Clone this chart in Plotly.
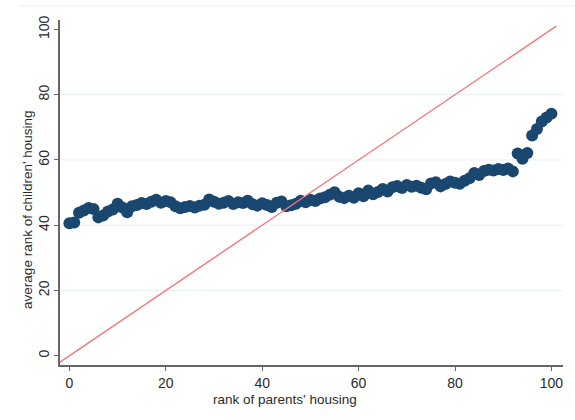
import plotly.graph_objects as go

# Percentile rank of parents' housing (0-100)
parent_rank = list(range(0, 101))

# Average rank of children's housing within each parent percentile
child_rank = [
    40.6, 40.8, 43.8, 44.5, 45.3, 45.0, 42.4, 43.0, 44.2, 44.8,
    46.6, 45.4, 44.0, 45.8, 46.2, 46.8, 46.5, 47.2, 47.8, 46.9,
    47.4, 47.0, 45.8, 45.2, 45.6, 45.9, 45.4, 46.0, 46.3, 47.9,
    47.2, 46.6, 46.9, 47.4, 46.5, 47.0, 46.8, 47.5, 46.4, 46.0,
    46.7, 46.2, 45.6, 46.9, 47.3, 45.8, 46.1, 46.6, 47.5, 47.0,
    47.8, 47.4, 48.2, 48.6, 49.3, 50.1, 48.7, 48.3, 49.0, 48.4,
    49.8, 48.9, 50.6, 49.5, 50.2, 51.1, 50.3, 51.6, 52.0, 51.4,
    52.3, 51.8, 52.1, 51.5, 51.0, 52.8, 53.2, 51.9, 52.6, 53.4,
    53.0, 52.7, 53.6, 54.4, 56.0, 55.4, 56.6, 57.0, 56.8, 57.2,
    56.9, 57.4, 56.5, 62.0, 60.4, 62.1, 67.5, 69.5, 71.8, 73.0,
    74.2,
]

# 45-degree reference line (perfect persistence)
diag_x = [-3, 101]
diag_y = [-3, 101]

x_ticks = [0, 20, 40, 60, 80, 100]
y_ticks = [0, 20, 40, 60, 80, 100]
grid_levels = [20, 40, 60, 80]

x_range = [-1.95, 102.4]
y_range = [-2.85, 102.9]

x_title = "rank of parents' housing"
y_title = "average rank of children' housing"

navy = "#1a476f"
line_red = "#f47676"
axis_gray = "#666666"
text_color = "#2b2b2b"

fig = go.Figure()

fig.add_trace(go.Scatter(
    x=parent_rank, y=child_rank, mode="markers",
    marker=dict(color=navy, size=12, line=dict(width=0)),
    showlegend=False, hoverinfo="x+y",
))

fig.add_trace(go.Scatter(
    x=diag_x, y=diag_y, mode="lines",
    line=dict(color=line_red, width=1.4),
    showlegend=False, hoverinfo="skip",
))

shapes = []
for g in grid_levels:
    shapes.append(dict(
        type="line", xref="paper", yref="y", x0=0, x1=1, y0=g, y1=g,
        line=dict(color="#e8f0f2", width=1), layer="below",
    ))
# faint outer frame line along the top
shapes.append(dict(
    type="line", xref="paper", yref="paper", x0=-0.08, x1=1.03,
    y0=1.0406, y1=1.0406, line=dict(color="#eeeeee", width=1),
))

font_family = "Liberation Sans, Arial, sans-serif"

annotations = [
    dict(text=x_title, xref="paper", yref="paper", x=0.447, y=-0.1,
         xanchor="center", yanchor="middle", showarrow=False,
         font=dict(size=13.5, color=text_color)),
    dict(text=y_title, xref="paper", yref="paper", x=-0.066, y=0.449,
         xanchor="center", yanchor="middle", showarrow=False, textangle=-90,
         font=dict(size=13.5, color=text_color)),
]

fig.update_layout(
    width=575, height=420,
    margin=dict(l=60, r=12, t=20, b=55),
    paper_bgcolor="white", plot_bgcolor="white",
    font=dict(family=font_family, color=text_color, size=14),
    shapes=shapes,
    annotations=annotations,
    xaxis=dict(
        range=x_range, tickvals=x_ticks, ticktext=[str(v) for v in x_ticks],
        showgrid=False, zeroline=False,
        showline=True, linecolor=axis_gray, linewidth=1.5,
        ticks="outside", ticklen=4, tickcolor=axis_gray, tickwidth=1,
        tickfont=dict(size=14, color=text_color),
    ),
    yaxis=dict(
        range=y_range, tickvals=y_ticks, ticktext=[str(v) for v in y_ticks],
        showgrid=False, zeroline=False,
        showline=True, linecolor=axis_gray, linewidth=1.5,
        ticks="outside", ticklen=4, tickcolor=axis_gray, tickwidth=1,
        tickangle=-90,
        tickfont=dict(size=14, color=text_color),
    ),
)

fig.write_html("out.html")
